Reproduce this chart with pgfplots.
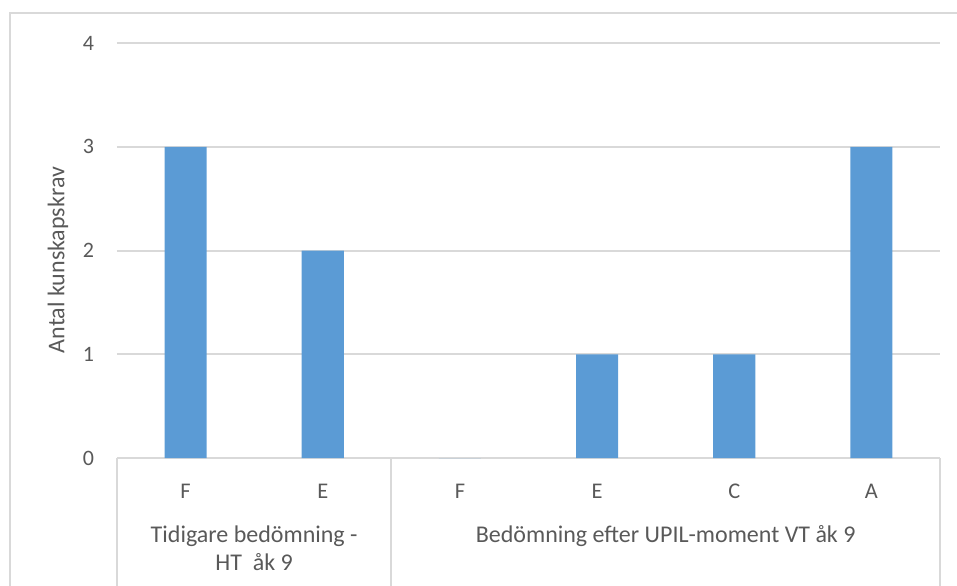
\documentclass[border=0pt]{standalone}
\usepackage{fontspec}
\setmainfont{Carlito}
\usepackage{pgfplots}
\pgfplotsset{compat=1.18}
\definecolor{barblue}{HTML}{5B9BD5}
\definecolor{gridgray}{HTML}{D9D9D9}
\definecolor{txt}{HTML}{595959}
\begin{document}
\begin{tikzpicture}
\useasboundingbox (0,0) rectangle (478.5pt,292.5pt);
\clip (0,0) rectangle (478.5pt,292.5pt);
\draw[gridgray, line width=1pt] (5pt,-10pt) -- (5pt,286pt) -- (500pt,286pt);
\begin{axis}[
  at={(58.5pt,63.5pt)}, anchor=south west,
  scale only axis, width=411.5pt, height=207.5pt,
  xmin=-0.5, xmax=5.5, ymin=0, ymax=4,
  ytick={0,1,2,3,4},
  xtick={0,1,2,3,4,5}, xticklabels={F,E,F,E,C,A},
  ymajorgrids, grid style={gridgray, line width=1pt},
  axis line style={draw=none},
  major tick length=0pt,
  clip=false,
  /pgf/number format/assume math mode=true,
  yticklabel style={font=\fontsize{11}{13}\selectfont, text=txt, xshift=-8pt},
  xticklabel style={font=\fontsize{11.2}{13}\selectfont, text=txt, yshift=-9.5pt},
  ylabel={Antal kunskapskrav},
  ylabel style={font=\fontsize{12}{14}\selectfont, text=txt, at={(axis description cs:-0.0717,0.477)}, anchor=center},
  ybar, bar width=21pt,
]
\addplot[fill=barblue, draw=none] coordinates {(0,3) (1,2) (2,0) (3,1) (4,1) (5,3)};
\draw[gridgray, line width=1pt] (axis cs:-0.5,0) -- ([yshift=-80pt]axis cs:-0.5,0);
\draw[gridgray, line width=1pt] (axis cs:1.5,0) -- ([yshift=-80pt]axis cs:1.5,0);
\draw[gridgray, line width=1pt] (axis cs:5.5,0) -- ([yshift=-80pt]axis cs:5.5,0);
\node[anchor=base, font=\fontsize{12}{14}\selectfont, text=txt] at ([yshift=-42pt]axis cs:0.5,0) {Tidigare bedömning -};
\node[anchor=base, font=\fontsize{12}{14}\selectfont, text=txt] at ([yshift=-56pt]axis cs:0.5,0) {HT\ \ åk 9};
\node[anchor=base, font=\fontsize{12}{14}\selectfont, text=txt] at ([yshift=-42pt]axis cs:3.5,0) {Bedömning efter UPIL-moment VT åk 9};
\end{axis}
\end{tikzpicture}
\end{document}
